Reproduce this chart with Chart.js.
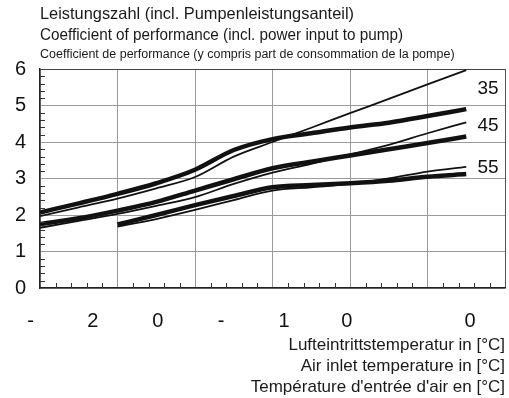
<!DOCTYPE html>
<html>
<head>
<meta charset="utf-8">
<script src="https://cdn.jsdelivr.net/npm/chart.js@4/dist/chart.umd.min.js"></script>
<style>
  html, body { margin: 0; padding: 0; background: #fff; }
  #wrap { width: 509px; height: 398px; }
</style>
</head>
<body>
<div id="wrap"><canvas id="cop" width="509" height="398"></canvas></div>
<script>
// air inlet temperature [°C]
const temps = [-20, -15, -10, -5, 0, 5, 10, 15, 20, 25, 30, 35];

// COP per flow temperature, thick and thin curve
const cop35Thick = [2.07, 2.32, 2.58, 2.87, 3.24, 3.78, 4.08, 4.24, 4.40, 4.53, 4.71, 4.90];
const cop35Thin  = [1.97, 2.21, 2.45, 2.73, 3.04, 3.60, 4.00, 4.39, 4.79, 5.18, 5.58, 5.97];
const cop45Thick = [1.75, 1.91, 2.12, 2.36, 2.67, 2.98, 3.28, 3.46, 3.63, 3.80, 3.97, 4.15];
const cop45Thin  = [1.65, 1.84, 2.03, 2.25, 2.49, 2.85, 3.16, 3.40, 3.66, 3.92, 4.24, 4.54];
const cop55Thick = [null, null, 1.74, 2.00, 2.27, 2.52, 2.76, 2.82, 2.87, 2.94, 3.05, 3.12];
const cop55Thin  = [null, null, 1.68, 1.89, 2.14, 2.41, 2.67, 2.76, 2.85, 3.00, 3.19, 3.32];

const seriesNames = ['35', '45', '55'];

// x tick labels as printed (garbled in the original)
const xTickLabels = ['-', '2', '0', '-', '1', '0', '0'];
const xTickValues = [-21.2, -13.2, -4.8, 3.35, 11.5, 19.6, 35.5];

const titleLines = [
  'Leistungszahl (incl. Pumpenleistungsanteil)',
  'Coefficient of performance (incl. power input to pump)',
  'Coefficient de performance (y compris part de consommation de la pompe)'
];
const xTitle = [
  'Lufteintrittstemperatur in [°C]',
  'Air inlet temperature in [°C]',
  "Température d'entrée d'air en [°C]"
];

const FONT = "'Liberation Sans', Arial, sans-serif";
const INK = '#111';

function pts(vals) {
  return temps.map((t, i) => ({ x: t, y: vals[i] }));
}
function line(vals, thick) {
  return {
    data: pts(vals),
    borderColor: INK,
    borderWidth: thick ? 4.5 : 1.8,
    pointRadius: 0,
    fill: false,
    cubicInterpolationMode: 'monotone',
    spanGaps: false
  };
}

const isInt = v => Math.abs(v - Math.round(v)) < 1e-6;

// titles, series names and inner minor ticks
const decor = {
  id: 'decor',
  afterDraw(chart) {
    const ctx = chart.ctx;
    const a = chart.chartArea;
    const x = chart.scales.x, y = chart.scales.y;
    ctx.save();
    // minor ticks on the left and bottom axes
    ctx.strokeStyle = '#333';
    ctx.lineWidth = 1;
    ctx.beginPath();
    for (let v = 0.2; v < 6; v += 0.2) {
      if (isInt(v)) continue;
      const py = Math.round(y.getPixelForValue(v)) + 0.5;
      ctx.moveTo(a.left, py); ctx.lineTo(a.left + 5, py);
    }
    for (let t = -18; t < 40; t += 2) {
      if (t % 10 === 0) continue;
      const px = Math.round(x.getPixelForValue(t)) + 0.5;
      ctx.moveTo(px, a.bottom); ctx.lineTo(px, a.bottom - 5);
    }
    ctx.stroke();

    // heading
    ctx.fillStyle = '#1a1a1a';
    ctx.textBaseline = 'middle';
    ctx.textAlign = 'left';
    ctx.font = '16.5px ' + FONT;
    ctx.fillText(titleLines[0], 40, 14, 314);
    ctx.font = '16px ' + FONT;
    ctx.fillText(titleLines[1], 40, 36, 363);
    ctx.font = '12.5px ' + FONT;
    ctx.fillText(titleLines[2], 40, 55, 457);

    // flow temperature names at the right ends
    const ends = [cop35Thick, cop45Thick, cop55Thick];
    const offs = [0.55, 0.3, 0.18];
    ctx.font = '19px ' + FONT;
    ctx.textAlign = 'center';
    ctx.fillStyle = INK;
    seriesNames.forEach((n, i) => {
      const last = ends[i][ends[i].length - 1];
      ctx.fillText(n, x.getPixelForValue(37.8), y.getPixelForValue(last + offs[i]));
    });
    ctx.restore();
  }
};

new Chart(document.getElementById('cop'), {
  type: 'line',
  data: {
    datasets: [
      line(cop35Thick, true), line(cop35Thin, false),
      line(cop45Thick, true), line(cop45Thin, false),
      line(cop55Thick, true), line(cop55Thin, false)
    ]
  },
  options: {
    responsive: false,
    animation: false,
    layout: { padding: { left: 0, right: 4, top: 69, bottom: 0 } },
    plugins: {
      legend: { display: false },
      tooltip: { enabled: false }
    },
    scales: {
      x: {
        type: 'linear',
        position: 'bottom',
        min: -20,
        max: 40,
        ticks: { display: false, stepSize: 2 },
        grid: {
          drawTicks: false,
          color: c => {
            const v = c.tick.value;
            if (v === 40) return '#555';
            return v % 10 === 0 ? '#9a9a9a' : 'rgba(0,0,0,0)';
          },
          lineWidth: 1
        },
        border: { display: true, color: '#222', width: 1.5 },
        afterFit: s => { s.height = 0; }
      },
      xl: {
        type: 'linear',
        position: 'bottom',
        min: -20,
        max: 40,
        grid: { display: false, drawTicks: false },
        border: { display: false },
        afterBuildTicks: s => { s.ticks = xTickValues.map(v => ({ value: v })); },
        ticks: {
          autoSkip: false,
          maxRotation: 0,
          padding: 21,
          color: INK,
          font: { family: FONT, size: 20 },
          callback: (v, i) => xTickLabels[i]
        },
        title: {
          display: true,
          text: xTitle,
          align: 'end',
          color: '#1a1a1a',
          font: { family: FONT, size: 17, lineHeight: '21px' },
          padding: { top: 0, bottom: 0.5 }
        },
        afterFit: s => { s.height = 110; }
      },
      y: {
        min: 0,
        max: 6,
        ticks: {
          stepSize: 0.2,
          autoSkip: false,
          padding: 14,
          color: INK,
          font: { family: FONT, size: 20 },
          callback: v => isInt(v) ? String(Math.round(v)) : ''
        },
        grid: {
          drawTicks: false,
          color: c => {
            const v = c.tick.value;
            if (!isInt(v)) return 'rgba(0,0,0,0)';
            if (Math.round(v) === 6) return '#444';
            return '#9a9a9a';
          },
          lineWidth: 1
        },
        border: { display: true, color: '#222', width: 1.5 },
        afterFit: s => { s.width = 40; }
      }
    }
  },
  plugins: [decor]
});
</script>
</body>
</html>
